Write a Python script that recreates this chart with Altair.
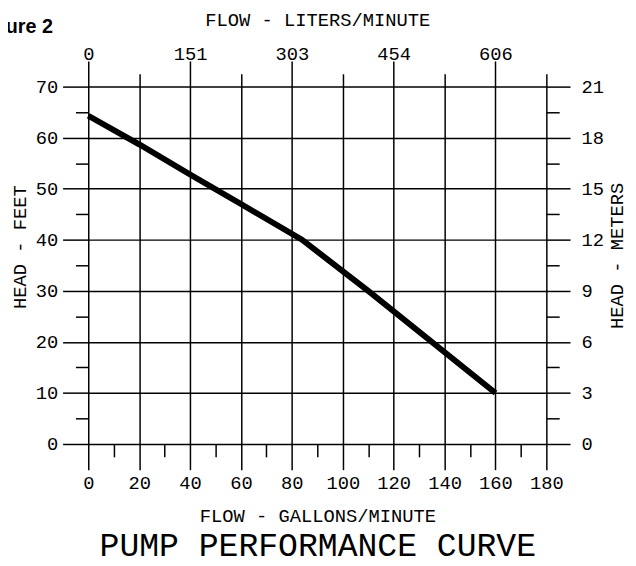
import altair as alt
import pandas as pd

# ---- data ----
flow_gpm = [0, 20, 40, 60, 84, 110, 160]
head_ft = [64.3, 58.7, 52.8, 47.0, 40.0, 30.0, 10.0]

gpm_major = [0, 20, 40, 60, 80, 100, 120, 140, 160, 180]
gpm_minor = [10, 30, 50, 70, 90, 110, 130, 150, 170]
lpm_tick_gpm = [0, 40, 80, 120, 160]
lpm_labels = ["0", "151", "303", "454", "606"]
lpm_minor_gpm = [20, 60, 100, 140, 180]
ft_major = [0, 10, 20, 30, 40, 50, 60, 70]
ft_minor = [5, 15, 25, 35, 45, 55, 65]
m_labels = ["0", "3", "6", "9", "12", "15", "18", "21"]

W, H = 464, 362
FONT = "Liberation Mono"


def label_expr(values, labels):
    expr = "''"
    for v, lab in reversed(list(zip(values, labels))):
        expr = f"datum.value == {v} ? '{lab}' : ({expr})"
    return expr


df = pd.DataFrame({"gpm": flow_gpm, "ft": head_ft})
xs = alt.Scale(domain=[0, 180], nice=False, zero=True)
ys = alt.Scale(domain=[0, 70], nice=False, zero=True)

common = dict(
    domain=False, tickColor="black", tickWidth=1.5, tickOpacity=1,
    labelColor="black", labelFont=FONT, labelFontSize=19,
    labelFlush=False, labelOverlap=False,
    titleFont=FONT, titleFontSize=19, titleColor="black",
    titleFontWeight="normal",
)
gridstyle = dict(grid=True, gridColor="black", gridWidth=1.5, gridOpacity=1)

line = alt.Chart(df).mark_line(
    color="black", strokeWidth=6, strokeCap="butt", strokeJoin="round"
).encode(
    x=alt.X("gpm:Q", scale=xs, axis=alt.Axis(
        orient="bottom", values=gpm_major, tickSize=26, labelPadding=13,
        labelBaseline="middle", title="FLOW - GALLONS/MINUTE",
        titleY=72, titleBaseline="middle", **gridstyle, **common)),
    y=alt.Y("ft:Q", scale=ys, axis=alt.Axis(
        orient="left", values=ft_major, tickSize=26, labelPadding=5,
        title="HEAD - FEET", titleX=-70, titleY=162, titleAngle=270,
        titleBaseline="middle", titleAlign="center", **gridstyle, **common)),
)

ghost = alt.Chart(df).mark_point(opacity=0)

minor_bl = ghost.encode(
    x=alt.X("gpm:Q", scale=xs, axis=alt.Axis(
        orient="bottom", values=gpm_minor, tickSize=13, labels=False, grid=False,
        title="PUMP PERFORMANCE CURVE", titleY=103, titleBaseline="middle",
        **{**common, "titleFontSize": 33.5})),
    y=alt.Y("ft:Q", scale=ys, axis=alt.Axis(
        orient="left", values=ft_minor, tickSize=13, labels=False, grid=False,
        title=None, **common)),
)

major_tr = ghost.encode(
    x=alt.X("gpm:Q", scale=xs, axis=alt.Axis(
        orient="top", values=lpm_tick_gpm, tickSize=26, labelPadding=7.5,
        labelBaseline="middle", labelExpr=label_expr(lpm_tick_gpm, lpm_labels),
        grid=False, title="FLOW - LITERS/MINUTE", titleY=-68,
        titleBaseline="middle", **common)),
    y=alt.Y("ft:Q", scale=ys, axis=alt.Axis(
        orient="right", values=ft_major, tickSize=24, labelPadding=11,
        labelAlign="left", labelExpr=label_expr(ft_major, m_labels), grid=False,
        title="HEAD - METERS", titleX=71, titleY=171, titleAngle=270,
        titleBaseline="middle", titleAlign="center", **common)),
)

minor_tr = ghost.encode(
    x=alt.X("gpm:Q", scale=xs, axis=alt.Axis(
        orient="top", values=lpm_minor_gpm, tickSize=13, labels=False, grid=False,
        title="Figure 2", titleX=-36.3, titleY=-55, titleAngle=0,
        titleAlign="right", titleBaseline="alphabetic",
        **{**common, "titleFont": "Liberation Sans", "titleFontWeight": "bold",
           "titleFontSize": 20})),
    y=alt.Y("ft:Q", scale=ys, axis=alt.Axis(
        orient="right", values=ft_minor, tickSize=13, labels=False, grid=False,
        title=None, **common)),
)

chart = alt.layer(line, minor_bl, major_tr, minor_tr).resolve_axis(
    x="independent", y="independent"
).properties(
    width=W, height=H,
    padding={"left": 81.3, "top": 76, "right": 82.7, "bottom": 124},
    autosize=alt.AutoSizeParams(type="none"),
    background="white",
).configure_view(stroke=None)

chart.save("out.html", embed_options={"renderer": "svg", "actions": False})
